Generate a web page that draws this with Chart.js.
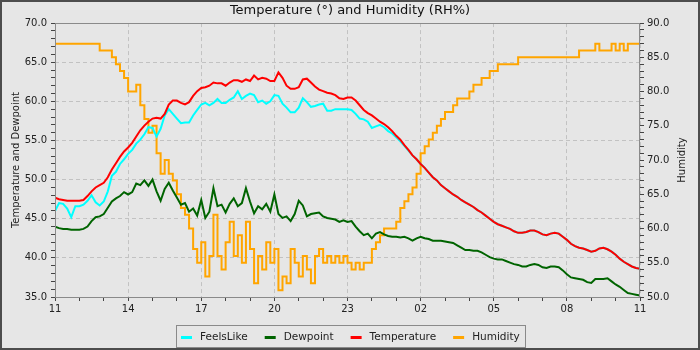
<!DOCTYPE html>
<html>
<head>
<meta charset="utf-8">
<script src="https://cdn.jsdelivr.net/npm/chart.js@4"></script>
<style>
  html, body { margin: 0; padding: 0; background: #e6e6e6; }
</style>
</head>
<body>
<canvas id="myChart" width="700" height="350"></canvas>
<script>
// one reading every 10 minutes, from 11:00 to 11:00 the next day (145 readings)
var startHour = 11;

var temperature = [
  47.7, 47.5, 47.4, 47.3, 47.3, 47.3, 47.3, 47.4, 47.9, 48.5, 49.0, 49.3,
  49.6, 50.3, 51.3, 52.1, 52.9, 53.6, 54.1, 54.7, 55.5, 56.3, 56.9, 57.4,
  57.8, 57.9, 57.8, 58.4, 59.6, 60.1, 60.1, 59.8, 59.6, 59.9, 60.7, 61.3,
  61.7, 61.8, 62.0, 62.4, 62.3, 62.3, 62.0, 62.4, 62.7, 62.7, 62.5, 62.8,
  62.6, 63.3, 62.8, 63.0, 62.9, 62.6, 62.6, 63.7, 63.0, 62.0, 61.6, 61.6,
  61.8, 62.8, 62.9, 62.4, 61.9, 61.5, 61.3, 61.1, 61.0, 60.8, 60.4, 60.3,
  60.5, 60.5, 60.1, 59.5, 58.9, 58.5, 58.2, 57.8, 57.4, 57.1, 56.7, 56.2,
  55.6, 55.1, 54.4, 53.8, 53.1, 52.6, 52.0, 51.5, 50.9, 50.3, 49.9, 49.3,
  48.9, 48.5, 48.1, 47.8, 47.4, 47.1, 46.8, 46.5, 46.1, 45.8, 45.4, 45.0,
  44.6, 44.3, 44.1, 43.9, 43.7, 43.4, 43.2, 43.2, 43.3, 43.5, 43.5, 43.3,
  43.0, 42.9, 43.1, 43.2, 43.1, 42.7, 42.3, 41.8, 41.5, 41.3, 41.2, 41.0,
  40.8, 40.9, 41.2, 41.3, 41.1, 40.8, 40.4, 39.9, 39.5, 39.2, 38.9, 38.7,
  38.6
];

var feelsLike = [
  46.0, 47.0, 46.9, 46.3, 45.2, 46.6, 46.6, 46.8, 47.3, 48.0, 47.1, 46.7,
  47.2, 48.5, 50.5, 51.0, 52.0, 52.6, 53.3, 53.8, 54.6, 55.1, 55.8, 56.7,
  56.6, 55.5, 56.5, 58.2, 59.0, 58.4, 57.8, 57.2, 57.3, 57.3, 58.2, 58.9,
  59.6, 59.8, 59.5, 59.8, 60.3, 59.8, 59.8, 60.2, 60.5, 61.3, 60.3, 60.7,
  61.0, 60.8, 59.9, 60.1, 59.7, 60.0, 60.8, 60.7, 59.7, 59.2, 58.6, 58.6,
  59.2, 60.4, 59.9, 59.3, 59.4, 59.6, 59.7, 58.8, 58.8, 59.0, 59.0, 59.0,
  59.0, 58.9, 58.4, 57.8, 57.7, 57.4, 56.6, 56.8, 57.0, 56.7, 56.2, 55.9,
  55.4, 54.9, 54.3, 53.7, 53.1, 52.6, 52.0, 51.5, 50.9, 50.3, 49.9, 49.3,
  48.9, 48.5, 48.1, 47.8, 47.4, 47.1, 46.8, 46.5, 46.1, 45.8, 45.4, 45.0,
  44.6, 44.3, 44.1, 43.9, 43.7, 43.4, 43.2, 43.2, 43.3, 43.5, 43.5, 43.3,
  43.0, 42.9, 43.1, 43.2, 43.1, 42.7, 42.3, 41.8, 41.5, 41.3, 41.2, 41.0,
  40.8, 40.9, 41.2, 41.3, 41.1, 40.8, 40.4, 39.9, 39.5, 39.2, 38.9, 38.7,
  38.6
];

var dewpoint = [
  44.0, 43.8, 43.7, 43.7, 43.6, 43.6, 43.6, 43.7, 44.0, 44.7, 45.2, 45.3,
  45.6, 46.4, 47.2, 47.6, 47.9, 48.4, 48.1, 48.4, 49.5, 49.3, 49.9, 49.2,
  50.0, 48.5, 47.3, 48.8, 49.6, 48.6, 47.7, 46.8, 47.0, 45.9, 46.3, 45.4,
  47.4, 45.1, 45.9, 48.9, 46.6, 46.8, 45.8, 46.9, 47.6, 46.6, 47.0, 48.9,
  47.2, 45.7, 46.6, 46.2, 46.9, 45.9, 48.1, 45.6, 45.1, 45.3, 44.7, 45.6,
  47.3, 46.7, 45.3, 45.6, 45.7, 45.8, 45.3, 45.1, 45.0, 44.9, 44.6, 44.8,
  44.6, 44.7, 44.0, 43.4, 42.9, 43.1, 42.5, 43.1, 43.3, 43.0, 42.8, 42.7,
  42.7, 42.6, 42.7, 42.5, 42.2, 42.5, 42.7, 42.5, 42.4, 42.2, 42.2, 42.2,
  42.1, 42.0, 41.9, 41.6, 41.3, 41.0, 41.0, 40.9, 40.9, 40.7, 40.4, 40.1,
  39.9, 39.8, 39.8, 39.6, 39.4, 39.2, 39.1, 38.9, 38.9, 39.1, 39.2, 39.1,
  38.8, 38.7, 38.9, 38.9, 38.8, 38.4, 37.9, 37.5, 37.4, 37.3, 37.2, 36.9,
  36.8, 37.3, 37.3, 37.3, 37.4, 37.0, 36.6, 36.3, 35.9, 35.5, 35.4, 35.3,
  35.2
];

var humidity = [
  87, 87, 87, 87, 87, 87, 87, 87, 87, 87, 87, 86,
  86, 86, 85, 84, 83, 82, 80, 80, 81, 78, 76, 74,
  75, 71, 68, 70, 68, 67, 65, 63, 62, 60, 57, 55,
  58, 53, 56, 62, 56, 54, 58, 61, 56, 59, 55, 61,
  57, 52, 56, 54, 58, 55, 57, 51, 53, 52, 57, 55,
  53, 56, 54, 52, 56, 57, 55, 56, 55, 56, 55, 56,
  55, 54, 55, 54, 55, 55, 57, 58, 59, 60, 60, 60,
  61, 63, 64, 65, 66, 68, 71, 72, 73, 74, 75, 76,
  77, 77, 78, 79, 79, 79, 80, 81, 81, 82, 82, 83,
  83, 84, 84, 84, 84, 84, 85, 85, 85, 85, 85, 85,
  85, 85, 85, 85, 85, 85, 85, 85, 85, 86, 86, 86,
  86, 87, 86, 86, 86, 87, 86, 87, 86, 87, 87, 87,
  87
];

var seriesNames = ['FeelsLike', 'Dewpoint', 'Temperature', 'Humidity'];
var seriesColors = ['#00ffff', '#006400', '#ff0000', '#ffa500'];
// orden de dibujado: la humedad queda debajo, la temperatura encima
var seriesOrder = [2, 1, 0, 3];

function toPoints(values){
  var pts = [];
  for (var i = 0; i < values.length; i++) {
    pts.push({x: i / 6, y: values[i]});
  }
  return pts;
}

function hourLabel(v){
  if (v % 3 !== 0) return '';
  var h = (startHour + v) % 24;
  return (h < 10 ? '0' : '') + h;
}

/*
* fondo, marco del grafico, titulo derecho y leyenda con recuadro
*/
var decorations = {
  id: 'decorations',
  beforeDraw: function(chart){
    var ctx = chart.ctx;
    ctx.save();
    ctx.fillStyle = '#e6e6e6';
    ctx.fillRect(0, 0, chart.width, chart.height);
    ctx.restore();
  },
  afterDraw: function(chart){
    var ctx = chart.ctx;
    var a = chart.chartArea;
    ctx.save();
    // borde del area de datos
    ctx.strokeStyle = '#8a8a8a';
    ctx.lineWidth = 1;
    ctx.strokeRect(Math.round(a.left) + 0.5, Math.round(a.top) + 0.5,
                   Math.round(a.right - a.left) - 1, Math.round(a.bottom - a.top));

    // titulo del eje derecho, leido de abajo hacia arriba
    ctx.fillStyle = '#222';
    ctx.font = '10px "DejaVu Sans"';
    ctx.textAlign = 'center';
    ctx.textBaseline = 'middle';
    ctx.translate(682, (a.top + a.bottom) / 2);
    ctx.rotate(-Math.PI / 2);
    ctx.fillText('Humidity', 0, 0);
    ctx.setTransform(1, 0, 0, 1, 0, 0);

    // leyenda
    ctx.font = '10.5px "DejaVu Sans"';
    var marker = 11, gap = 8, spacing = 17, pad = 5;
    var widths = seriesNames.map(function(n){ return ctx.measureText(n).width; });
    var total = pad * 2 + spacing * (seriesNames.length - 1);
    widths.forEach(function(w){ total += marker + gap + w; });
    var x0 = Math.round((chart.width - total) / 2);
    var top = 325, h = 22;
    ctx.strokeStyle = '#8a8a8a';
    ctx.strokeRect(x0 + 0.5, top + 0.5, Math.round(total), h);
    var cx = x0 + pad, cy = top + h / 2 + 1;
    ctx.textAlign = 'left';
    ctx.lineWidth = 3;
    for (var i = 0; i < seriesNames.length; i++) {
      ctx.strokeStyle = seriesColors[i];
      ctx.beginPath();
      ctx.moveTo(cx, cy + 0.5);
      ctx.lineTo(cx + marker, cy + 0.5);
      ctx.stroke();
      ctx.fillStyle = '#222';
      ctx.fillText(seriesNames[i], cx + marker + gap, cy);
      cx += marker + gap + widths[i] + spacing;
    }

    // marco exterior
    ctx.strokeStyle = '#4d4d4d';
    ctx.lineWidth = 2;
    ctx.strokeRect(1, 1, chart.width - 2, chart.height - 2);
    ctx.restore();
  }
};

Chart.defaults.font.family = '"DejaVu Sans"';
Chart.defaults.font.size = 10;
Chart.defaults.color = '#222';

function showchart(){
  var ctx = document.getElementById('myChart');
  var sets = [feelsLike, dewpoint, temperature, humidity];
  var datasets = [];
  for (var i = 0; i < sets.length; i++) {
    datasets.push({
      label: seriesNames[i],
      data: toPoints(sets[i]),
      borderColor: seriesColors[i],
      backgroundColor: seriesColors[i],
      borderWidth: 2,
      pointRadius: 0,
      fill: false,
      stepped: i == 3,
      yAxisID: i == 3 ? 'y1' : 'y',
      order: seriesOrder[i]
    });
  }

  new Chart(ctx, {
    type: 'line',
    data: { datasets: datasets },
    options: {
      responsive: false,
      animation: false,
      layout: { padding: { left: 0, right: 0, top: 0, bottom: 31 } },
      plugins: {
        legend: { display: false },
        tooltip: { enabled: false },
        title: {
          display: true,
          text: 'Temperature (\u00b0) and Humidity (RH%)',
          color: '#111',
          font: { size: 13, weight: 'normal' },
          padding: { top: 3, bottom: 4.5 }
        }
      },
      scales: {
        x: {
          type: 'linear',
          min: 0,
          max: 24,
          afterFit: function(s){ s.height = 22; },
          ticks: { stepSize: 1, autoSkip: false, maxRotation: 0, padding: 2, callback: hourLabel },
          grid: {
            color: function(c){ return (c.tick && c.tick.value % 3 === 0) ? '#c2c2c2' : 'rgba(0,0,0,0)'; },
            tickColor: '#444',
            tickLength: 4
          },
          border: { display: false, dash: [4, 3] }
        },
        y: {
          position: 'left',
          min: 35,
          max: 70,
          afterFit: function(s){ s.width = 55; },
          ticks: {
            stepSize: 1, autoSkip: false, padding: 4,
            callback: function(v){ return v % 5 === 0 ? v.toFixed(1) : ''; }
          },
          grid: {
            color: function(c){ return (c.tick && c.tick.value % 5 === 0) ? '#c2c2c2' : 'rgba(0,0,0,0)'; },
            tickColor: '#444',
            tickLength: 4
          },
          border: { display: false, dash: [4, 3] },
          title: {
            display: true,
            text: 'Temperature and Dewpoint',
            font: { size: 10 },
            padding: { top: 10, bottom: 0 }
          }
        },
        y1: {
          position: 'right',
          min: 50,
          max: 90,
          afterFit: function(s){ s.width = 60; },
          ticks: {
            stepSize: 1, autoSkip: false, padding: 3,
            callback: function(v){ return v % 5 === 0 ? v.toFixed(1) : ''; }
          },
          grid: { drawOnChartArea: false, tickColor: '#444', tickLength: 4 },
          border: { display: false }
        }
      }
    },
    plugins: [decorations]
  });
}

showchart();
</script>
</body>
</html>
